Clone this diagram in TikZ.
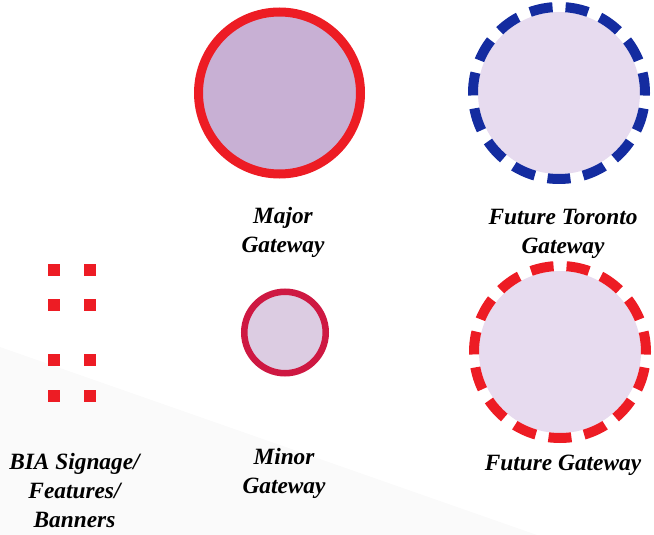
\documentclass[tikz,border=0pt]{standalone}
\usepackage{fontspec}
\setmainfont{Liberation Serif}
\definecolor{gwred}{RGB}{237,28,36}
\definecolor{gwblue}{RGB}{20,44,160}
\definecolor{majorfill}{RGB}{200,176,212}
\definecolor{lightfill}{RGB}{231,219,239}
\definecolor{minorfill}{RGB}{220,204,226}
\definecolor{minorred}{RGB}{206,24,66}
\definecolor{bgtint}{RGB}{250,250,250}
\tikzset{
  lbl/.style={font=\fontsize{17.5pt}{21.4pt}\selectfont\bfseries\itshape, align=center, anchor=base, inner sep=0pt},
  sq/.style={fill=gwred, minimum size=9pt, inner sep=0pt, outer sep=0pt, draw=none},
  ringdash/.style={line width=7.5pt, dash pattern=on 17.25pt off 9.77pt, dash phase=8.6pt},
}
\begin{document}
\begin{tikzpicture}[x=0.75pt, y=-0.75pt]
\useasboundingbox (0,0) rectangle (654,535);
\fill[bgtint] (0,347) -- (537,535) -- (0,535) -- cycle;
% Major gateway
\node[circle, draw=gwred, fill=majorfill, line width=6.75pt, minimum size=121.5pt, inner sep=0pt] (major) at (279.5,93) {};
% Future Toronto gateway
\node[circle, fill=lightfill, minimum size=121.5pt, inner sep=0pt] (toronto) at (559,93) {};
\draw[gwblue, ringdash] (toronto.center) ++(90:86) arc[start angle=90, end angle=450, radius=86];
% Minor gateway
\node[circle, draw=minorred, fill=minorfill, line width=4.9pt, minimum size=61.1pt, inner sep=0pt] (minor) at (285,332.5) {};
% Future gateway
\node[circle, fill=lightfill, minimum size=121.5pt, inner sep=0pt] (future) at (560,352) {};
\draw[gwred, ringdash] (future.center) ++(90:86) arc[start angle=90, end angle=450, radius=86];
% BIA squares
\node[sq] (s1) at (54,270) {};
\node[sq] (s2) at (90,270) {};
\node[sq] (s3) at (54,305) {};
\node[sq] (s4) at (90,305) {};
\node[sq] (s5) at (54,360) {};
\node[sq] (s6) at (90,360) {};
\node[sq] (s7) at (54,396) {};
\node[sq] (s8) at (90,396) {};
% Labels (base anchor = baseline of last line)
\node[lbl] (lmajor) at (283,252.5) {Major\\Gateway};
\node[lbl] (ltoronto) at (563,253) {Future Toronto\\Gateway};
\node[lbl] (lbia) at (74.5,527) {BIA Signage/\\Features/\\Banners};
\node[lbl] (lminor) at (284,493) {Minor\\Gateway};
\node[lbl] (lfuture) at (563,470) {Future Gateway};
\end{tikzpicture}
\end{document}
